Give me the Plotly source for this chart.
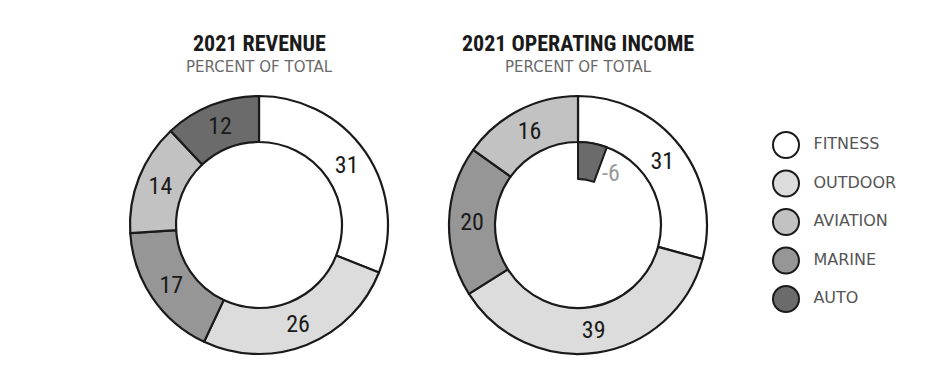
import math
import plotly.graph_objects as go

# ---- data ----
segments = ["FITNESS", "OUTDOOR", "AVIATION", "MARINE", "AUTO"]
seg_colors = ["#ffffff", "#dcdcdc", "#c2c2c2", "#969696", "#6b6b6b"]

rev_labels = ["FITNESS", "OUTDOOR", "MARINE", "AVIATION", "AUTO"]
rev_values = [31, 26, 17, 14, 12]

oi_labels = ["FITNESS", "OUTDOOR", "MARINE", "AVIATION", "AUTO"]
oi_values = [31, 39, 20, 16, -6]

titles = ["2021 REVENUE", "2021 OPERATING INCOME"]
subtitle = "PERCENT OF TOTAL"

# ---- layout helpers ----
W, H = 945, 371
color_of = dict(zip(segments, seg_colors))
COND = "Roboto Condensed, DejaVu Sans Condensed, sans-serif"
PLAIN = "DejaVu Sans, sans-serif"
LINE = "#1a1a1a"


def dom(cx, cy, r):
    return dict(x=[(cx - r) / W, (cx + r) / W], y=[(H - cy - r) / H, (H - cy + r) / H])


R_OUT, R_IN = 129, 83
centers = [(259, 225), (578, 225)]

fig = go.Figure()

# Revenue donut
fig.add_trace(go.Pie(
    labels=rev_labels, values=rev_values, sort=False, direction="clockwise", rotation=0,
    hole=R_IN / R_OUT, domain=dom(*centers[0], R_OUT),
    marker=dict(colors=[color_of[l] for l in rev_labels], line=dict(color=LINE, width=2.2)),
    texttemplate="%{value}", textposition="inside", insidetextorientation="horizontal",
    textfont=dict(family=COND, size=24, color="#1a1a1a"),
    hoverinfo="label+value", showlegend=False,
))

# Operating income donut (positive segments on ring)
pos_l = [l for l, v in zip(oi_labels, oi_values) if v > 0]
pos_v = [v for v in oi_values if v > 0]
fig.add_trace(go.Pie(
    labels=pos_l, values=pos_v, sort=False, direction="clockwise", rotation=0,
    hole=R_IN / R_OUT, domain=dom(*centers[1], R_OUT),
    marker=dict(colors=[color_of[l] for l in pos_l], line=dict(color=LINE, width=2.2)),
    texttemplate="%{value}", textposition="inside", insidetextorientation="horizontal",
    textfont=dict(family=COND, size=24, color="#1a1a1a"),
    hoverinfo="label+value", showlegend=False,
))

# Negative segment drawn as an inner wedge
neg_l = [l for l, v in zip(oi_labels, oi_values) if v < 0]
neg_v = [v for v in oi_values if v < 0]
R_W_IN = 46
for l, v in zip(neg_l, neg_v):
    rest = sum(pos_v) - abs(v)
    fig.add_trace(go.Pie(
        labels=[l, "rest"], values=[abs(v), rest], sort=False, direction="clockwise", rotation=0,
        hole=R_W_IN / R_IN, domain=dom(*centers[1], R_IN),
        marker=dict(colors=[color_of[l], "rgba(0,0,0,0)"],
                    line=dict(color=[LINE, "rgba(0,0,0,0)"], width=[2, 0])),
        textinfo="none", hoverinfo="skip", showlegend=False,
    ))
    ang = abs(v) / sum(pos_v) * 360 + 12
    rr = 62
    fig.add_annotation(
        x=(centers[1][0] + rr * math.sin(math.radians(ang))) / W,
        y=(H - centers[1][1] + rr * math.cos(math.radians(ang))) / H,
        xref="paper", yref="paper", xanchor="center", yanchor="middle",
        text=str(v), showarrow=False,
        font=dict(family=COND, size=24, color="#9a9a9a"),
    )

# Titles
for (cx, _), t in zip(centers, titles):
    fig.add_annotation(x=cx / W, y=(H - 44) / H, xref="paper", yref="paper",
                       xanchor="center", yanchor="middle", text=f"<b>{t}</b>",
                       showarrow=False, font=dict(family=COND, size=22, color="#1a1a1a"))
    fig.add_annotation(x=cx / W, y=(H - 67) / H, xref="paper", yref="paper",
                       xanchor="center", yanchor="middle", text=subtitle,
                       showarrow=False, font=dict(family=PLAIN, size=15, color="#6a6a6a"))

# Legend drawn as a scatter
fig.add_trace(go.Scatter(
    x=[0] * len(segments), y=list(range(len(segments))), mode="markers+text",
    text=["  " + s for s in segments], textposition="middle right",
    textfont=dict(family=PLAIN, size=16, color="#555555"),
    marker=dict(size=26, color=seg_colors, line=dict(color=LINE, width=2)),
    hoverinfo="text", showlegend=False, cliponaxis=False,
))

fig.update_layout(
    width=W, height=H, margin=dict(l=0, r=0, t=0, b=0),
    paper_bgcolor="white", plot_bgcolor="rgba(0,0,0,0)",
    xaxis=dict(domain=[756 / W, 1.0], range=[-0.5, 2.65], visible=False, fixedrange=True),
    yaxis=dict(domain=[52.75 / H, 245.25 / H], range=[4.5, -0.5], visible=False, fixedrange=True),
)

fig.write_html("out.html", config={"displayModeBar": False},
               post_script="document.body.style.margin='0'")
